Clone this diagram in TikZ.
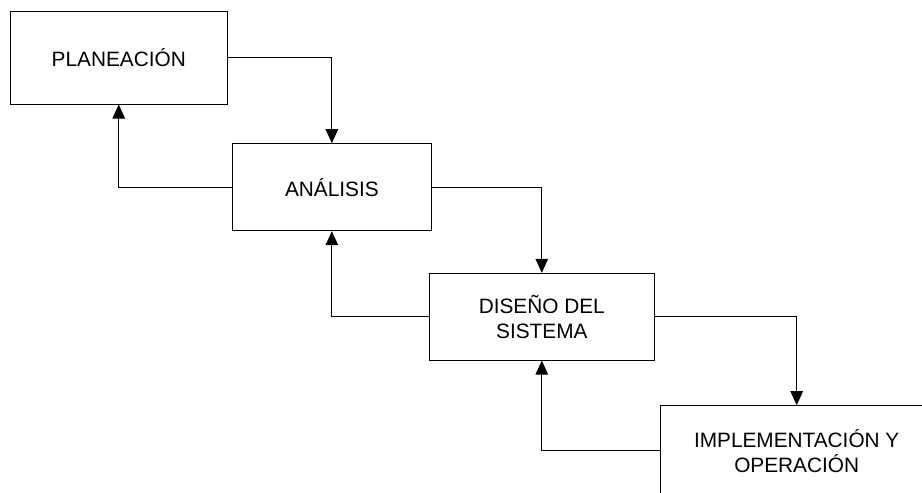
\documentclass[tikz,border=0pt]{standalone}
\usepackage{fontspec}
\setmainfont{Liberation Sans}
\usetikzlibrary{arrows.meta}
\begin{document}
\begin{tikzpicture}[x=1pt,y=-1pt,
  stage/.style={draw=black, line width=1pt, fill=white, inner sep=0pt,
    align=center, font=\fontsize{20.8}{25}\selectfont},
  flow/.style={draw=black, line width=1pt,
    -{Triangle[length=14pt,width=12.5pt]}}]
  \useasboundingbox (0,0) rectangle (922,493);
  \clip (0,0) rectangle (922,493);

  % process stages
  \node[stage, minimum width=216.5pt, minimum height=92.3pt] (plan) at (118.75,57.85) {PLANEACIÓN};
  \node[stage, minimum width=198.3pt, minimum height=87pt] (anal) at (331.85,187.2) {ANÁLISIS};
  \node[stage, minimum width=225pt, minimum height=86.7pt] (dis) at (541.8,316.7) {DISEÑO DEL\\SISTEMA};
  \node[stage, minimum width=272pt, minimum height=90.3pt] (impl) at (796.7,450.85) {IMPLEMENTACIÓN Y\\OPERACIÓN};

  % forward flow
  \draw[flow] (plan.east) -| (anal.north);
  \draw[flow] (anal.east) -| (dis.north);
  \draw[flow] (dis.east) -| (impl.north);

  % feedback flow
  \draw[flow] (anal.west) -| (plan.south);
  \draw[flow] (dis.west) -| (anal.south);
  \draw[flow] (impl.west) -| (dis.south);
\end{tikzpicture}
\end{document}
